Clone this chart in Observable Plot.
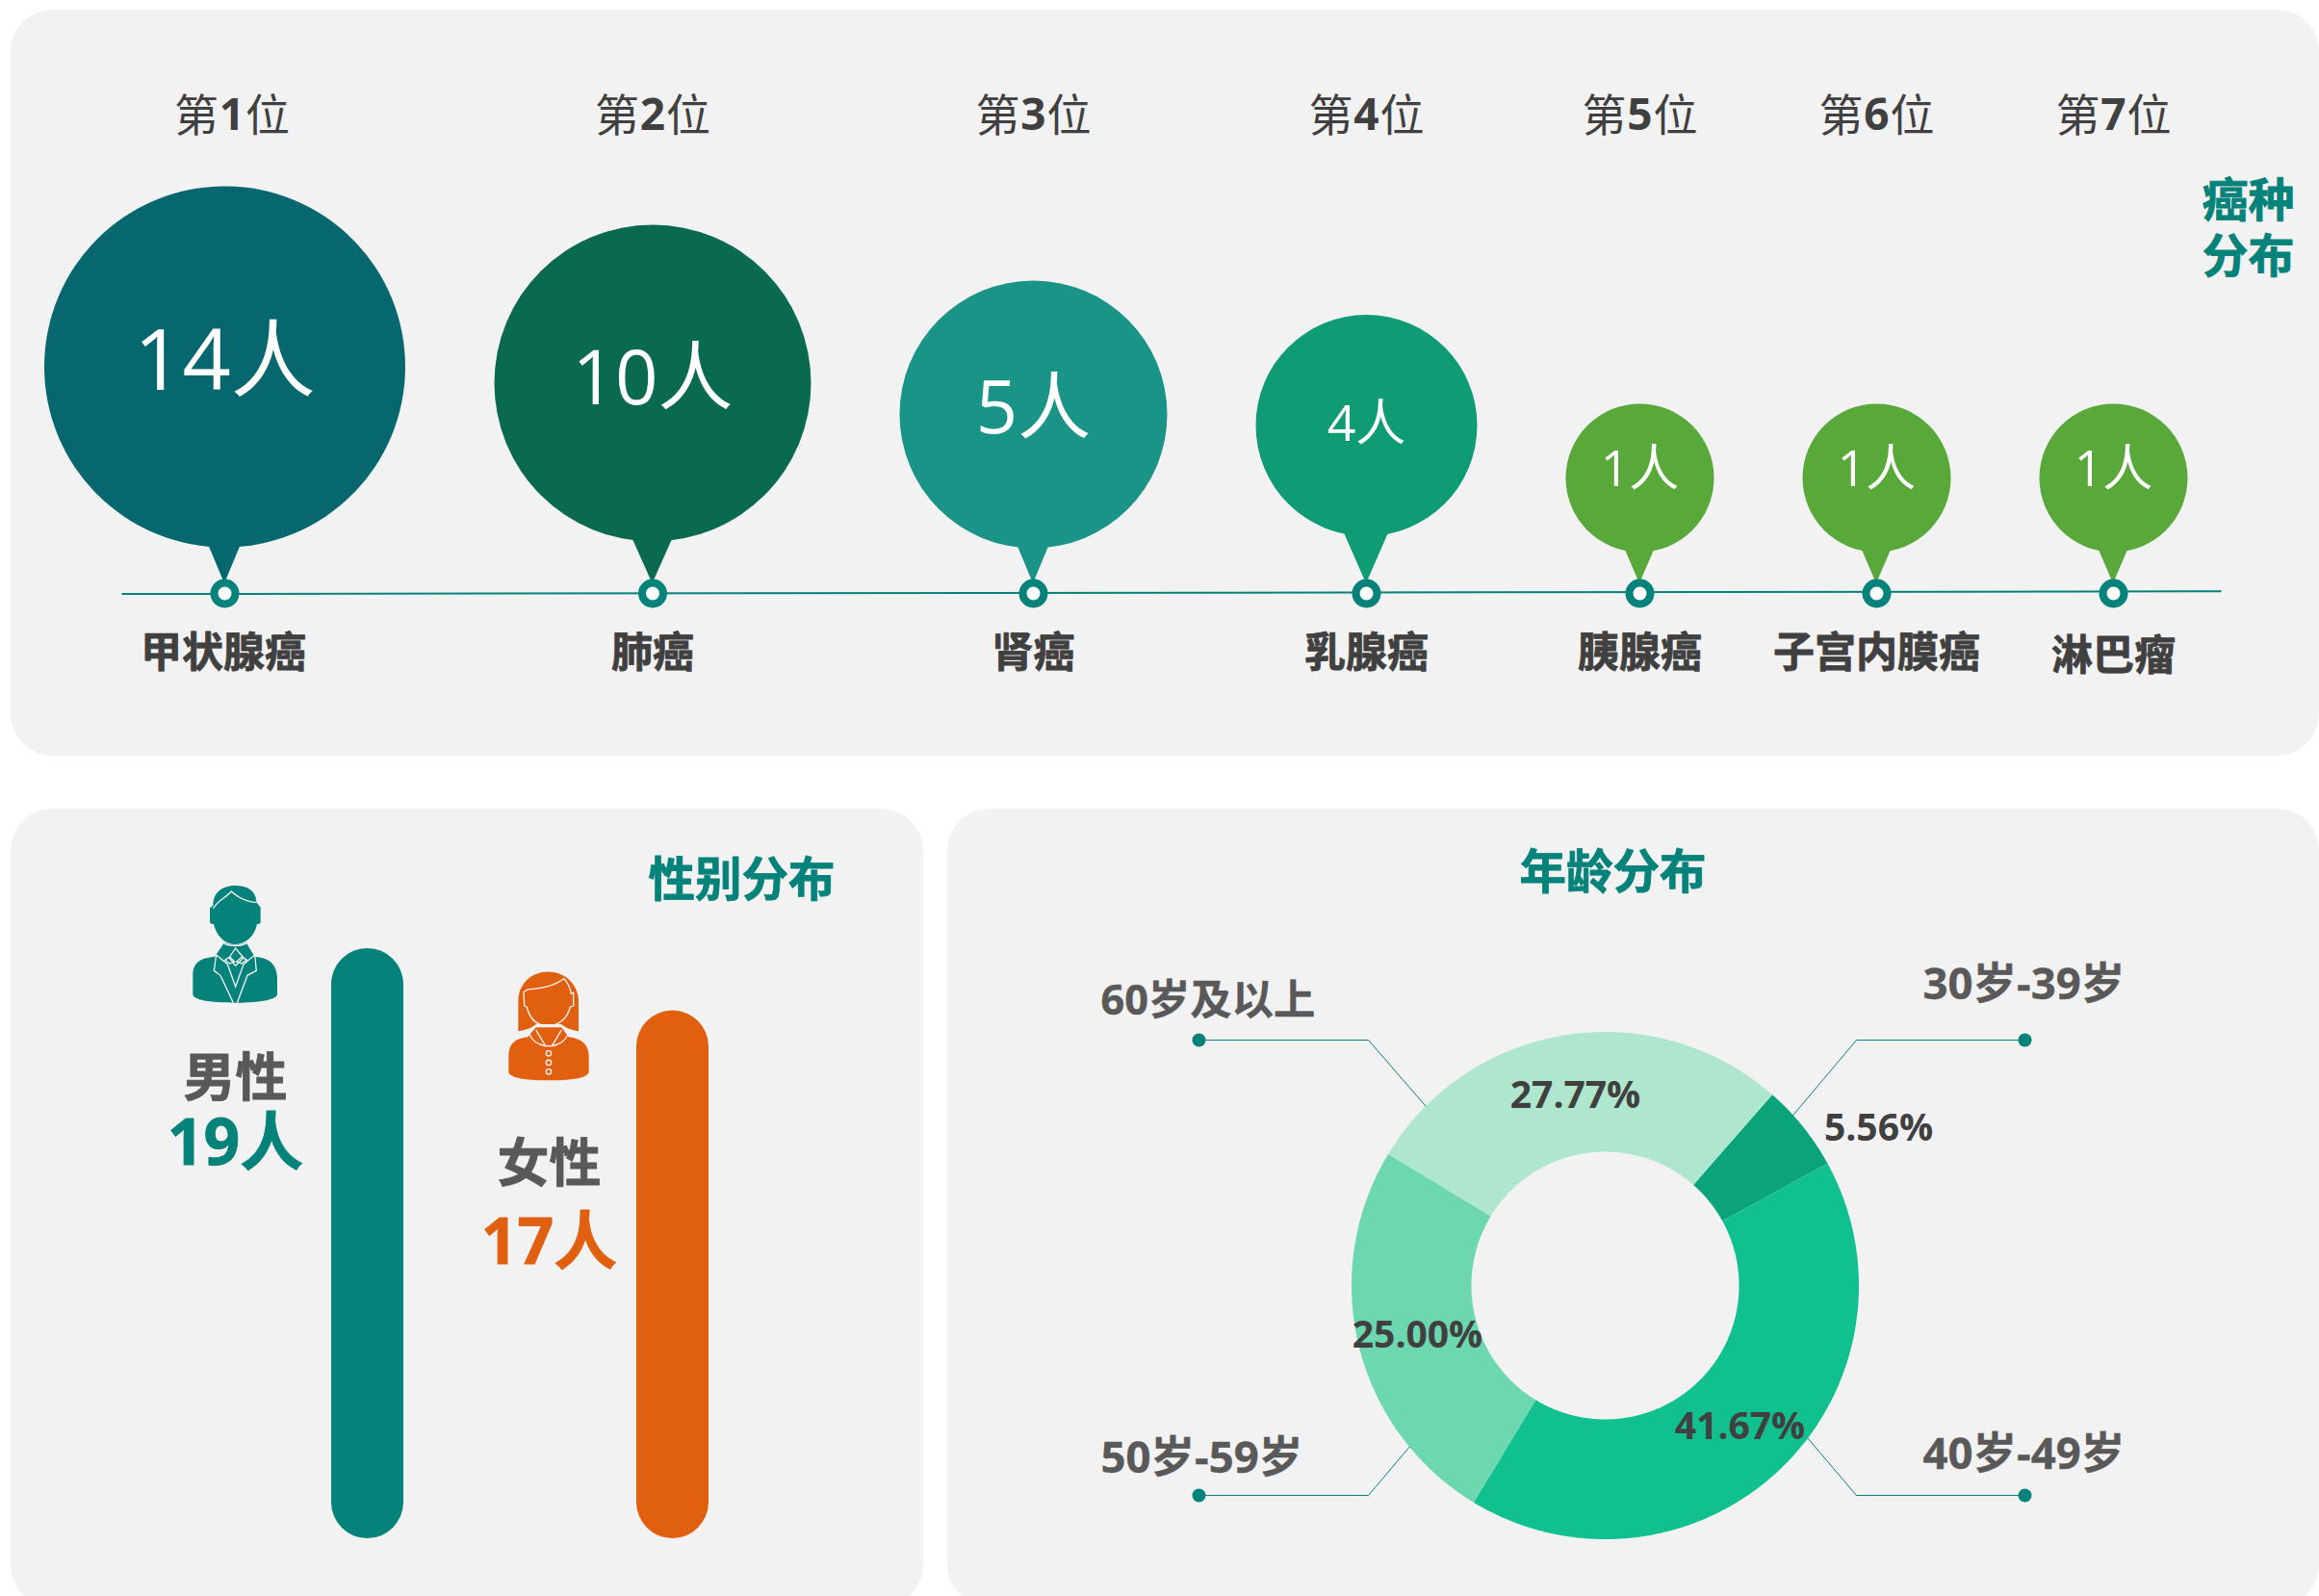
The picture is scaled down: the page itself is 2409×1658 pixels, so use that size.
<!DOCTYPE html>
<html lang="zh-CN">
<head>
<meta charset="utf-8">
<script src="https://cdn.jsdelivr.net/npm/d3@7"></script>
<script src="https://cdn.jsdelivr.net/npm/@observablehq/plot@0.6"></script>
<style>
html,body{margin:0;padding:0;background:#fff;width:2409px;height:1658px;overflow:hidden;position:relative}
svg{position:absolute;display:block}
</style>
</head>
<body>
<script>
// ---------- data ----------
const cancerNames  = ["甲状腺癌","肺癌","肾癌","乳腺癌","胰腺癌","子宫内膜癌","淋巴瘤"];
const cancerCounts = [14,10,5,4,1,1,1];
const genderNames  = ["男性","女性"];
const genderCounts = [19,17];
const ageGroups    = ["30岁-39岁","40岁-49岁","50岁-59岁","60岁及以上"];
const agePercents  = [5.56,41.67,25.00,27.77];

// ---------- shared style ----------
const FONT = "'Open Sans','Noto Sans CJK SC',sans-serif";
const PANEL = "#f2f2f2", TEAL = "#05827a", ORANGE = "#e06010", GREY = "#595959", DARK = "#404040";
const panelStyle = (l,t,radius=44)=>({position:"absolute",left:l+"px",top:t+"px",background:PANEL,borderRadius:radius+"px",overflow:"hidden"});
const heavy = color => ({fill:color,stroke:color,strokeWidth:0.8,fontWeight:700,fontFamily:FONT});

// ---------- top panel: bubbles on a timeline ----------
const countLevels = [14,10,5,4,1];
const bubbleR     = [187.5,164.5,139,115,77];
const bubbleColor = ["#07676e","#0a6a50","#1b9488","#0f9c74","#59a83a"];
const radiusOf = c => bubbleR[countLevels.indexOf(c)];
const GAP = 92;
let cursor = 222;
const bubbles = cancerNames.map((name,i)=>{
  const count = cancerCounts[i];
  if (i>0) cursor += radiusOf(cancerCounts[i-1]) + radiusOf(count) + GAP + (i===1?0.5:0);
  return {name,count,rank:i+1,pos:cursor};
});
// height of a bubble's centre above the timeline, by head count
const centreY = d3.scaleLinear().domain([1,4,5,10,14]).range([486,431.5,420,387.5,370.5]);
const BASE_Y = 606;
const pinWidth = {14:35,10:41,5:34,4:45,1:30};
const pinBase  = {14:4,10:2,5:4,4:2,1:2};
const labelLift= {14:4,10:3,5:5,4:0.5,1:8.5};
const labelSize= {14:88,10:78,5:76,4:52,1:52};
const rankDx   = {1:7.5};
const nameDx   = {"甲状腺癌":-1.5};

const pinMark = (index,{x,y,r,color})=>{
  const g = d3.create("svg:g");
  for (const d of bubbles){
    const cx=x(d.pos), cy=y(centreY(d.count)), rr=r(d.count), w=pinWidth[d.count]/2;
    const base=cy+rr-pinBase[d.count], tip=y(BASE_Y)-10;
    g.append("path").attr("fill",color(d.count))
      .attr("d",`M${cx-w},${base}L${cx},${tip}L${cx+w},${base}L${cx},${cy}Z`);
  }
  return g.node();
};

const topPlot = Plot.plot({
  width:2398,height:775,margin:0,
  x:{domain:[0,2398],range:[0,2398],axis:null},
  y:{domain:[0,775],range:[0,775],axis:null},
  r:{type:"linear",domain:[1,4,5,10,14],range:[77,115,139,164.5,187.5]},
  color:{type:"ordinal",domain:countLevels,range:bubbleColor},
  style:panelStyle(11,10),
  marks:[
    Plot.link([0],{x1:()=>115,x2:()=>2296,y1:()=>BASE_Y+0.6,y2:()=>BASE_Y-2.2,stroke:TEAL,strokeWidth:2}),
    pinMark,
    Plot.dot(bubbles,{x:"pos",y:d=>centreY(d.count),r:"count",fill:"count"}),
    Plot.dot(bubbles,{x:"pos",y:()=>BASE_Y,r:11,fill:"#fff",stroke:TEAL,strokeWidth:8}),
    ...bubbles.map(d=>Plot.text([d],{x:"pos",y:b=>centreY(b.count),dy:-labelLift[d.count],text:b=>b.count+"人",
      fill:"#fff",fontSize:labelSize[d.count],fontFamily:FONT,fontWeight:400})),
    ...bubbles.map(d=>[
      Plot.text([d],{x:b=>b.pos+(rankDx[b.rank]||0),y:()=>BASE_Y,dy:-495,dx:-14,text:()=>"第",textAnchor:"end",fill:DARK,fontSize:46,fontFamily:FONT}),
      Plot.text([d],{x:b=>b.pos+(rankDx[b.rank]||0),y:()=>BASE_Y,dy:-496,text:b=>String(b.rank),textAnchor:"middle",fill:DARK,fontSize:46,fontWeight:700,fontFamily:FONT}),
      Plot.text([d],{x:b=>b.pos+(rankDx[b.rank]||0),y:()=>BASE_Y,dy:-495,dx:14,text:()=>"位",textAnchor:"start",fill:DARK,fontSize:46,fontFamily:FONT})
    ]).flat(),
    ...bubbles.map(d=>Plot.text([d],{x:b=>b.pos+(nameDx[b.name]||0),y:()=>BASE_Y,dy:d.name==="淋巴瘤"?66:63,text:"name",fontSize:43,...heavy(DARK)})),
    Plot.text(["癌种\n分布"],{frameAnchor:"top-right",textAnchor:"middle",lineAnchor:"middle",dx:-74,dy:225,lineHeight:1.2,fontSize:48,...heavy(TEAL)})
  ]
});
document.body.appendChild(topPlot);

// ---------- bottom-left: gender bars ----------
const BAR_W = 75;
const genderRows = genderNames.map((name,i)=>({name,count:genderCounts[i]}));
const genderColor = [TEAL,ORANGE];
const labelOffsets = {"男性":{dx:-137.5,name:136.5,value:203.5,fs:54,vs:66},"女性":{dx:-128.5,name:161,value:242,fs:54,vs:66}};
const iconShapes = {
 "男性":{dx:-137.5,dy:-5,cx:223,cy:240,fill:TEAL,
   solid:["M155 122C155 80 185 60 225 60C265 60 290 80 290 112L303 128L303 175Q303 181 292 180C285 215 258 243 223 243C190 243 165 215 157 180Q145 181 145 172L145 130Z",
          "M92 340C92 305 110 285 160 282L190 238C205 248 240 248 258 238L285 282C335 285 355 310 355 350L355 400C350 420 280 425 223 425C165 425 95 420 92 400Z"],
   lines:["M155 132C170 105 195 98 212 78C235 100 260 110 290 113",
          "M188 240C205 250 240 250 260 240","M165 276L158 325L178 340L218 425","M285 276L290 325L262 340L230 425",
          "M165 276L200 305L225 375L250 305L285 276","M205 285L225 255L250 285L225 310Z","M192 292L207 282L222 297L207 303Z","M228 297L245 282L260 292L243 303Z"],
   rings:[]},
 "女性":{dx:-128.5,dy:16.7,cx:1200,cy:497,fill:ORANGE,
   solid:["M1105 512L1105 420C1105 360 1150 327 1198 327C1250 327 1293 365 1293 420L1293 512C1270 508 1250 500 1240 490L1160 490C1150 500 1130 508 1105 512Z",
          "M1075 590C1075 550 1095 535 1135 530L1160 500L1240 500L1262 530C1305 535 1325 555 1325 590L1325 640C1320 660 1260 665 1198 665C1140 665 1080 660 1075 640Z"],
   lines:["M1135 382C1180 380 1220 370 1248 348C1262 365 1268 380 1270 395L1277 392L1277 433L1267 437C1258 470 1235 495 1198 495C1160 495 1140 470 1132 437L1124 433L1122 390Z",
          "M1140 522C1150 545 1170 555 1190 558L1160 508","M1260 522C1250 545 1230 555 1210 558L1240 508","M1190 558L1210 558"],
   rings:[[1200,581],[1200,610],[1200,638]]}
};
const iconMark = (index,{x,y})=>{
  const g = d3.create("svg:g");
  for (const d of genderRows){
    const s = iconShapes[d.name];
    const k = g.append("g").attr("transform",`translate(${x(d.name)+BAR_W/2+s.dx},${y(d.count)+s.dy}) scale(${1/3}) translate(${-s.cx},${-s.cy})`);
    s.solid.forEach(p=>k.append("path").attr("d",p).attr("fill",s.fill));
    s.lines.forEach(p=>k.append("path").attr("d",p).attr("fill","none").attr("stroke",PANEL).attr("stroke-width",4));
    s.rings.forEach(([a,b])=>k.append("circle").attr("cx",a).attr("cy",b).attr("r",8).attr("fill","none").attr("stroke",PANEL).attr("stroke-width",4));
  }
  return g.node();
};

const genderPlot = Plot.plot({
  width:948,height:829,margin:0,
  x:{type:"band",domain:genderNames,range:[333,725],paddingInner:1-75/317,paddingOuter:0,axis:null,round:false},
  y:{domain:[0,19],range:[758,145],axis:null},
  color:{type:"ordinal",domain:genderNames,range:genderColor},
  style:panelStyle(11,840),
  marks:[
    Plot.barY(genderRows,{x:"name",y:"count",fill:"name",rx:37.5,ry:37.5}),
    iconMark,
    ...genderRows.map((d,i)=>{
      const o=labelOffsets[d.name];
      return [
        Plot.text([d],{x:"name",y:"count",dx:o.dx,dy:o.name,text:"name",fontSize:o.fs,...heavy(GREY)}),
        Plot.text([d],{x:"name",y:"count",dx:o.dx,dy:o.value,text:b=>b.count+"人",fontSize:o.vs,...heavy(genderColor[i])})
      ];
    }).flat(),
    Plot.text(["性别分布"],{frameAnchor:"top-left",textAnchor:"middle",lineAnchor:"middle",dx:759,dy:75,fontSize:48.5,...heavy(TEAL)})
  ]
});
document.body.appendChild(genderPlot);

// ---------- bottom-right: donut of age groups ----------
const R_OUT = 263.5, R_IN = 139, START = 41.2;
const ageColor = ["#0ba37a","#10c18f","#6dd7b0","#afe6ce"];
const polar = (deg,rad)=>[rad*Math.sin(deg*Math.PI/180), rad*Math.cos(deg*Math.PI/180)];
const rim = R_IN/R_OUT;
let acc = START;
const slices = [];
ageGroups.forEach((age,i)=>{
  const sweep = agePercents[i]*3.6, a0 = acc, a1 = acc+sweep;
  acc = a1;
  const n = Math.ceil(sweep*2);
  const pts = [];
  for (let k=0;k<=n;k++){ const [x,y]=polar(a0+sweep*k/n,1); pts.push({age,x,y}); }
  for (let k=n;k>=0;k--){ const [x,y]=polar(a0+sweep*k/n,rim); pts.push({age,x,y}); }
  slices.push(...pts);
});
// leader geometry, in pixels from the donut's centre
const leaderLayout = {
  "30岁-39岁":{rim:47.8,elbow:[261,255],dot:[436,255],text:[330,312.5],fs:45.5},
  "40岁-49岁":{rim:127,elbow:[261,-218],dot:[436,-218],text:[330,-176],fs:45.5},
  "50岁-59岁":{rim:230.5,elbow:[-246,-218],dot:[-422,-218],text:[-524,-180],fs:45.5},
  "60岁及以上":{rim:315,elbow:[-246,255],dot:[-422,255],text:[-524,295],fs:43.3}
};
const percentOffset = {"30岁-39岁":[284,163],"40岁-49岁":[140,-147],"50岁-59岁":[-195,-52],"60岁及以上":[-31,197]};
const u = v => v/R_OUT;
const leaderPts = ageGroups.flatMap(age=>{
  const L = leaderLayout[age], [rx,ry]=polar(L.rim,1);
  return [{age,x:rx,y:ry},{age,x:u(L.elbow[0]),y:u(L.elbow[1])},{age,x:u(L.dot[0]),y:u(L.dot[1])}];
});
const ageRows = ageGroups.map((age,i)=>({age,pct:agePercents[i]}));
const CX = 683, CY = 495;
const agePlot = Plot.plot({
  width:1425,height:829,margin:0,
  x:{domain:[-1,1],range:[CX-R_OUT,CX+R_OUT],axis:null},
  y:{domain:[-1,1],range:[CY+R_OUT,CY-R_OUT],axis:null},
  color:{type:"ordinal",domain:ageGroups,range:ageColor},
  style:panelStyle(984,840),
  marks:[
    Plot.line(slices,{x:"x",y:"y",z:"age",fill:"age",stroke:null,curve:"linear-closed"}),
    Plot.line(leaderPts,{x:"x",y:"y",z:"age",stroke:TEAL,strokeWidth:1}),
    Plot.dot(ageRows,{x:d=>u(leaderLayout[d.age].dot[0]),y:d=>u(leaderLayout[d.age].dot[1]),r:7,fill:TEAL}),
    ...ageRows.map(d=>Plot.text([d],{x:b=>u(leaderLayout[b.age].text[0]),y:b=>u(leaderLayout[b.age].text[1]),text:"age",textAnchor:"start",fontSize:leaderLayout[d.age].fs,...heavy(GREY),strokeWidth:0.4})),
    Plot.text(ageRows,{x:d=>u(percentOffset[d.age][0]),y:d=>u(percentOffset[d.age][1]),text:d=>d.pct.toFixed(2)+"%",fill:DARK,fontSize:39,fontWeight:700,fontFamily:FONT}),
    Plot.text(["年龄分布"],{frameAnchor:"top-left",textAnchor:"middle",lineAnchor:"middle",dx:691,dy:67,fontSize:48.5,...heavy(TEAL)})
  ]
});
document.body.appendChild(agePlot);
</script>
</body>
</html>
